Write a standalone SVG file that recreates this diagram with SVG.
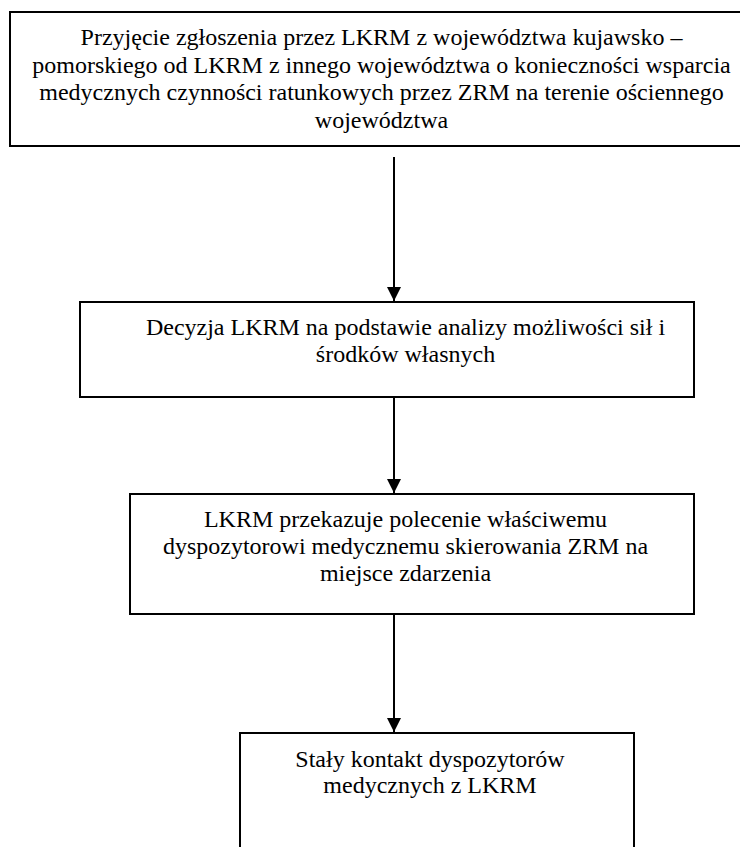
<svg xmlns="http://www.w3.org/2000/svg" width="740" height="847" viewBox="0 0 740 847">
<style>
.box{fill:#fff;stroke:#000;stroke-width:2}
.con{stroke:#000;stroke-width:2;fill:none}
</style>
<defs>
<marker id="ah" markerUnits="userSpaceOnUse" markerWidth="14" markerHeight="14" refX="14" refY="7" orient="auto" viewBox="0 0 14 14">
<path d="M0,0 L14,7 L0,14 Z" fill="#000"/>
</marker>
</defs>
<rect width="740" height="847" fill="#fff"/>
<g id="n1">
<rect class="box" x="10" y="12" width="745" height="134"/>
<text x="381.5" y="45" font-family="'Liberation Serif', serif" font-size="24" text-anchor="middle">Przyjęcie zgłoszenia przez LKRM z województwa kujawsko –</text>
<text x="381.5" y="72.5" font-family="'Liberation Serif', serif" font-size="24" text-anchor="middle">pomorskiego od LKRM z innego województwa o konieczności wsparcia</text>
<text x="381.5" y="100" font-family="'Liberation Serif', serif" font-size="24" text-anchor="middle">medycznych czynności ratunkowych przez ZRM na terenie ościennego</text>
<text x="381.5" y="127.5" font-family="'Liberation Serif', serif" font-size="24" text-anchor="middle">województwa</text>
</g>
<g id="n2">
<rect class="box" x="80" y="302" width="614" height="95"/>
<text x="405.5" y="335" font-family="'Liberation Serif', serif" font-size="24" text-anchor="middle">Decyzja LKRM na podstawie analizy możliwości sił i</text>
<text x="405.5" y="362" font-family="'Liberation Serif', serif" font-size="24" text-anchor="middle">środków własnych</text>
</g>
<g id="n3">
<rect class="box" x="130" y="494" width="564" height="120"/>
<text x="405.5" y="527" font-family="'Liberation Serif', serif" font-size="24" text-anchor="middle">LKRM przekazuje polecenie właściwemu</text>
<text x="405.5" y="554" font-family="'Liberation Serif', serif" font-size="24" text-anchor="middle">dyspozytorowi medycznemu skierowania ZRM na</text>
<text x="405.5" y="581" font-family="'Liberation Serif', serif" font-size="24" text-anchor="middle">miejsce zdarzenia</text>
</g>
<g id="n4">
<rect class="box" x="240" y="733" width="394" height="130"/>
<text x="430" y="767" font-family="'Liberation Serif', serif" font-size="24" text-anchor="middle">Stały kontakt dyspozytorów</text>
<text x="430" y="793" font-family="'Liberation Serif', serif" font-size="24" text-anchor="middle">medycznych z LKRM</text>
</g>
<g id="connectors">
<line class="con" x1="394" y1="157" x2="394" y2="301" marker-end="url(#ah)"/>
<line class="con" x1="394" y1="397" x2="394" y2="493" marker-end="url(#ah)"/>
<line class="con" x1="394" y1="614" x2="394" y2="732" marker-end="url(#ah)"/>
</g>
</svg>
